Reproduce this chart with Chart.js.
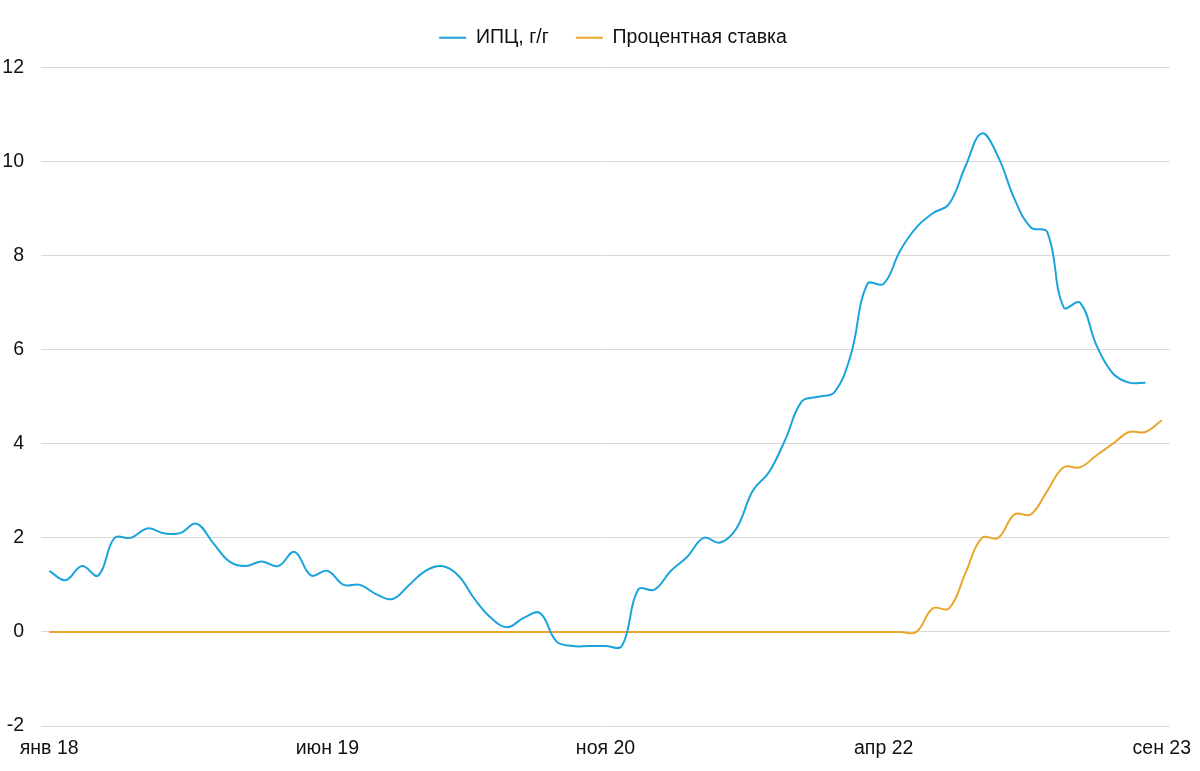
<!DOCTYPE html>
<html lang="ru">
<head>
<meta charset="utf-8">
<title>ИПЦ и процентная ставка</title>
<script src="https://cdn.jsdelivr.net/npm/chart.js@4.4.1/dist/chart.umd.min.js"></script>
<style>
  html, body { margin: 0; padding: 0; background: #fff; }
  #wrap { width: 1200px; height: 771px; }
</style>
</head>
<body>
<div id="wrap"><canvas id="chart"></canvas></div>
<script>
// месяцы с янв 2018 по сен 2023
const monthNames = ['янв', 'фев', 'мар', 'апр', 'май', 'июн', 'июл', 'авг', 'сен', 'окт', 'ноя', 'дек'];
const years = ['18', '19', '20', '21', '22', '23'];
const labelEvery = 17;

const categories = [];
years.forEach(y => monthNames.forEach(m => categories.push(m + ' ' + y)));
categories.length = 69;

// ИПЦ, г/г (янв 18 - авг 23)
const cpi = [
    1.3, 1.1, 1.4, 1.2, 2.0, 2.0, 2.2, 2.1, 2.1, 2.3, 1.9, 1.5,
    1.4, 1.5, 1.4, 1.7, 1.2, 1.3, 1.0, 1.0, 0.8, 0.7, 1.0, 1.3,
    1.4, 1.2, 0.7, 0.3, 0.1, 0.3, 0.4, -0.2, -0.3, -0.3, -0.3, -0.3,
    0.9, 0.9, 1.3, 1.6, 2.0, 1.9, 2.2, 3.0, 3.4, 4.1, 4.9, 5.0,
    5.1, 5.9, 7.4, 7.4, 8.1, 8.6, 8.9, 9.1, 9.9, 10.6, 10.1, 9.2,
    8.6, 8.5, 6.9, 7.0, 6.1, 5.5, 5.3, 5.3
];

// процентная ставка (янв 18 - сен 23)
const rate = [
    0, 0, 0, 0, 0, 0, 0, 0, 0, 0, 0, 0,
    0, 0, 0, 0, 0, 0, 0, 0, 0, 0, 0, 0,
    0, 0, 0, 0, 0, 0, 0, 0, 0, 0, 0, 0,
    0, 0, 0, 0, 0, 0, 0, 0, 0, 0, 0, 0,
    0, 0, 0, 0, 0, 0, 0.5, 0.5, 1.25, 2.0, 2.0, 2.5,
    2.5, 3.0, 3.5, 3.5, 3.75, 4.0, 4.25, 4.25, 4.5
];

const yMin = -2, yMax = 12, yStep = 2;

const blue = '#1ba3dc';
const orange = '#e8a72c';
const gridColor = '#d9d9d9';
const textColor = '#111';

Chart.defaults.font.family = '"Liberation Sans", Arial, sans-serif';
Chart.defaults.font.size = 19.5;
Chart.defaults.color = textColor;

// legend needs more room below it and sits a bit right of centre
const legendSpace = {
    id: 'legendSpace',
    beforeInit(chart) {
        const fit = chart.legend.fit;
        chart.legend.fit = function () {
            fit.bind(chart.legend)();
            this.height += 10;
        };
    },
    afterLayout(chart) {
        chart.legend.left += 28;
        chart.legend.right += 28;
    }
};

new Chart(document.getElementById('chart'), {
    type: 'line',
    data: {
        labels: categories,
        datasets: [
            {
                label: 'ИПЦ, г/г',
                data: cpi,
                borderColor: blue,
                backgroundColor: blue,
                borderWidth: 2,
                pointRadius: 0,
                tension: 0.4
            },
            {
                label: 'Процентная ставка',
                data: rate,
                borderColor: orange,
                backgroundColor: orange,
                borderWidth: 2,
                pointRadius: 0,
                tension: 0.4
            }
        ]
    },
    plugins: [legendSpace],
    options: {
        responsive: true,
        maintainAspectRatio: false,
        animation: false,
        layout: {
            padding: { top: 1, right: 30, bottom: 0, left: 0 }
        },
        plugins: {
            legend: {
                position: 'top',
                labels: {
                    usePointStyle: true,
                    pointStyle: 'line',
                    pointStyleWidth: 27,
                    padding: 27,
                    color: textColor
                }
            },
            tooltip: { enabled: false }
        },
        scales: {
            x: {
                offset: true,
                grid: { display: false },
                border: { display: false },
                ticks: {
                    autoSkip: false,
                    maxRotation: 0,
                    minRotation: 0,
                    padding: 3,
                    callback: (val, idx) => idx % labelEvery === 0 ? categories[idx] : ''
                },
                afterFit: s => { s.height = 45; }
            },
            y: {
                min: yMin,
                max: yMax,
                border: { display: false },
                grid: { color: gridColor, lineWidth: 1, drawTicks: false },
                ticks: { stepSize: yStep, padding: 17 },
                afterFit: s => { s.width = 41; }
            }
        }
    }
});
</script>
</body>
</html>
